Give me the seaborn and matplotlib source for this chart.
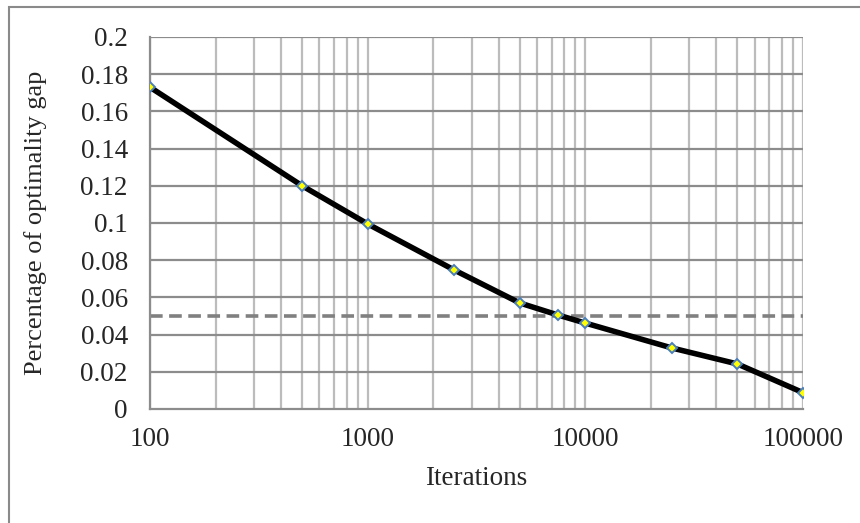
import matplotlib
matplotlib.use("Agg")
import matplotlib.pyplot as plt
from matplotlib.patches import Rectangle
from matplotlib.ticker import FixedLocator, NullFormatter, FuncFormatter
import numpy as np
import pandas as pd
import seaborn as sns

# Optimality gap versus number of iterations
iterations = [100, 500, 1000, 2500, 5000, 7500, 10000, 25000, 50000, 100000]
gap = [0.173, 0.120, 0.0995, 0.0747, 0.057, 0.0505, 0.0462, 0.0328, 0.0242, 0.0088]
threshold = 0.05

x_ticks = [100, 1000, 10000, 100000]
y_ticks = [0, 0.02, 0.04, 0.06, 0.08, 0.1, 0.12, 0.14, 0.16, 0.18, 0.2]
y_tick_labels = ["0", "0.02", "0.04", "0.06", "0.08", "0.1", "0.12", "0.14", "0.16", "0.18", "0.2"]

df = pd.DataFrame({"Iterations": iterations, "Gap": gap})

sns.set_style("white")
plt.rcParams["font.family"] = ["Liberation Serif", "DejaVu Serif"]

fig = plt.figure(figsize=(8.6, 5.23), dpi=100)
ax = fig.add_axes([150 / 860, 1 - 409 / 523, (803 - 150) / 860, (409 - 37) / 523])

# outer chart frame
fig.patches.append(Rectangle((9 / 860, -0.1), 1.2, 1 - 7 / 523 + 0.1,
                             transform=fig.transFigure, fill=False,
                             edgecolor="#8a8a8a", linewidth=1.5, zorder=0))

ax.set_xscale("log")
ax.set_xlim(100, 100000)
ax.set_ylim(0, 0.2)

# vertical grid at every decade and sub-decade
minor_pos = [m * 10 ** e for e in range(2, 5) for m in range(2, 10)]
for xv in minor_pos + x_ticks:
    ax.axvline(xv, color="#bcbcbc", linewidth=1.6, zorder=1)
for yv in y_ticks[1:]:
    ax.axhline(yv, color="#8c8c8c", linewidth=1.6, zorder=1)

ax.axhline(threshold, color="#808080", linewidth=2.6, linestyle=(0, (3.5, 1.8)), zorder=2)

sns.lineplot(data=df, x="Iterations", y="Gap", ax=ax, color="black", linewidth=4.0,
             marker="D", markersize=5.5, markerfacecolor="#ffff00",
             markeredgecolor="#4a7ebb", markeredgewidth=1.4, zorder=3)

ax.xaxis.set_major_locator(FixedLocator(x_ticks))
ax.xaxis.set_major_formatter(FuncFormatter(lambda v, p: f"{int(round(v))}"))
ax.xaxis.set_minor_locator(FixedLocator(minor_pos))
ax.xaxis.set_minor_formatter(NullFormatter())
ax.set_yticks(y_ticks)
ax.set_yticklabels(y_tick_labels)

for side in ("top", "right"):
    ax.spines[side].set_visible(False)
for side in ("left", "bottom"):
    ax.spines[side].set_color("#8c8c8c")
    ax.spines[side].set_linewidth(1.6)

ax.tick_params(axis="both", which="major", direction="out", length=5, width=1.6,
               color="#8c8c8c", labelsize=19.5)
ax.tick_params(axis="x", which="minor", length=0)
ax.tick_params(axis="y", pad=11)
ax.tick_params(axis="x", pad=8)

ax.set_xlabel("Iterations", fontsize=19.5, labelpad=10)
ax.set_ylabel("Percentage of optimality gap", fontsize=19)
ax.yaxis.set_label_coords((47 - 150) / 653, 0.5)

fig.savefig("out.png", dpi=100)
